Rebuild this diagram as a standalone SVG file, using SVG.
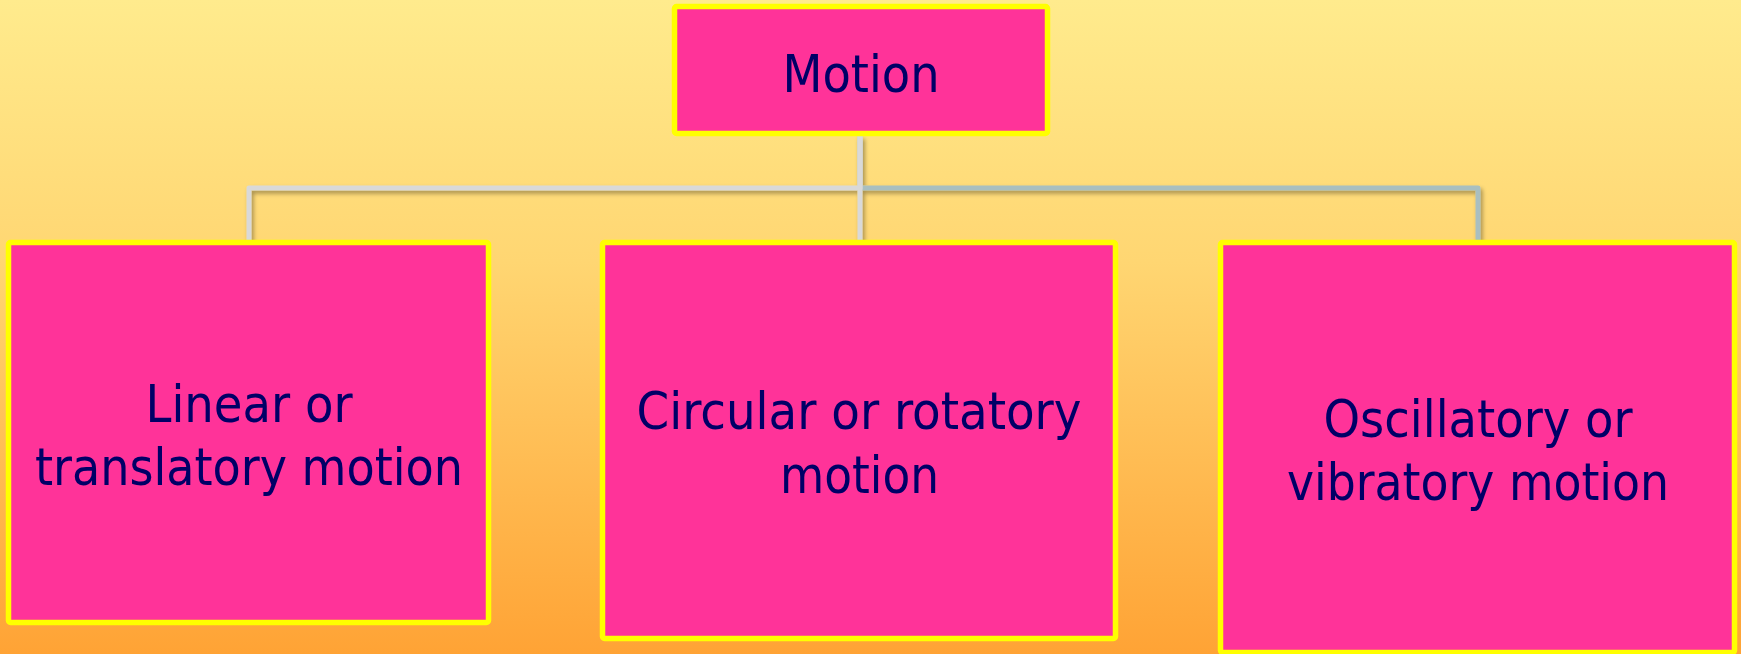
<svg xmlns="http://www.w3.org/2000/svg" width="1741" height="654" viewBox="0 0 1741 654">
  <defs>
    <linearGradient id="bg" x1="0" y1="0" x2="0" y2="1">
      <stop offset="0" stop-color="#FFEB8D"/>
      <stop offset="0.4" stop-color="#FFD672"/>
      <stop offset="1" stop-color="#FFA335"/>
    </linearGradient>
    <filter id="shadow" x="-10%" y="-50%" width="120%" height="200%">
      <feDropShadow dx="2" dy="3" stdDeviation="2" flood-color="#000" flood-opacity="0.35"/>
    </filter>
  </defs>
  <style>
    .box { fill: #FF3399; stroke: #FFFF00; stroke-width: 5.5; }
    .lbl { font-family: "DejaVu Sans", Verdana, sans-serif; font-stretch: condensed; font-size: 51px; fill: #000066; text-anchor: middle; }
    .conn { fill: none; stroke-width: 5; stroke-linejoin: round; stroke-linecap: butt; }
  </style>
  <rect x="0" y="0" width="1741" height="654" fill="url(#bg)"/>

  <g id="connectors" filter="url(#shadow)">
    <path class="conn" stroke="#A9BFC0" d="M860 136 V188 H1478 V241"/>
    <path class="conn" stroke="#D9D9D9" d="M860 136 V188 H249 V241"/>
    <path class="conn" stroke="#D9D9D9" d="M860 136 V241"/>
  </g>

  <g id="node-motion">
    <rect class="box" x="674.5" y="6.5" width="373" height="127" rx="2"/>
    <text class="lbl" x="861" y="92" textLength="157" lengthAdjust="spacingAndGlyphs">Motion</text>
  </g>

  <g id="node-linear">
    <rect class="box" x="8.5" y="242.5" width="480" height="380" rx="2"/>
    <text class="lbl" x="249" y="422" textLength="207" lengthAdjust="spacingAndGlyphs">Linear or</text>
    <text class="lbl" x="249" y="485" textLength="428" lengthAdjust="spacingAndGlyphs">translatory motion</text>
  </g>

  <g id="node-circular">
    <rect class="box" x="602.5" y="242.5" width="513" height="396" rx="2"/>
    <text class="lbl" x="859" y="429" textLength="445" lengthAdjust="spacingAndGlyphs">Circular or rotatory</text>
    <text class="lbl" x="859.5" y="493" textLength="159" lengthAdjust="spacingAndGlyphs">motion</text>
  </g>

  <g id="node-oscillatory">
    <rect class="box" x="1220.5" y="242.5" width="514" height="410" rx="2"/>
    <text class="lbl" x="1478" y="437" textLength="309" lengthAdjust="spacingAndGlyphs">Oscillatory or</text>
    <text class="lbl" x="1478" y="500" textLength="382" lengthAdjust="spacingAndGlyphs">vibratory motion</text>
  </g>
</svg>
